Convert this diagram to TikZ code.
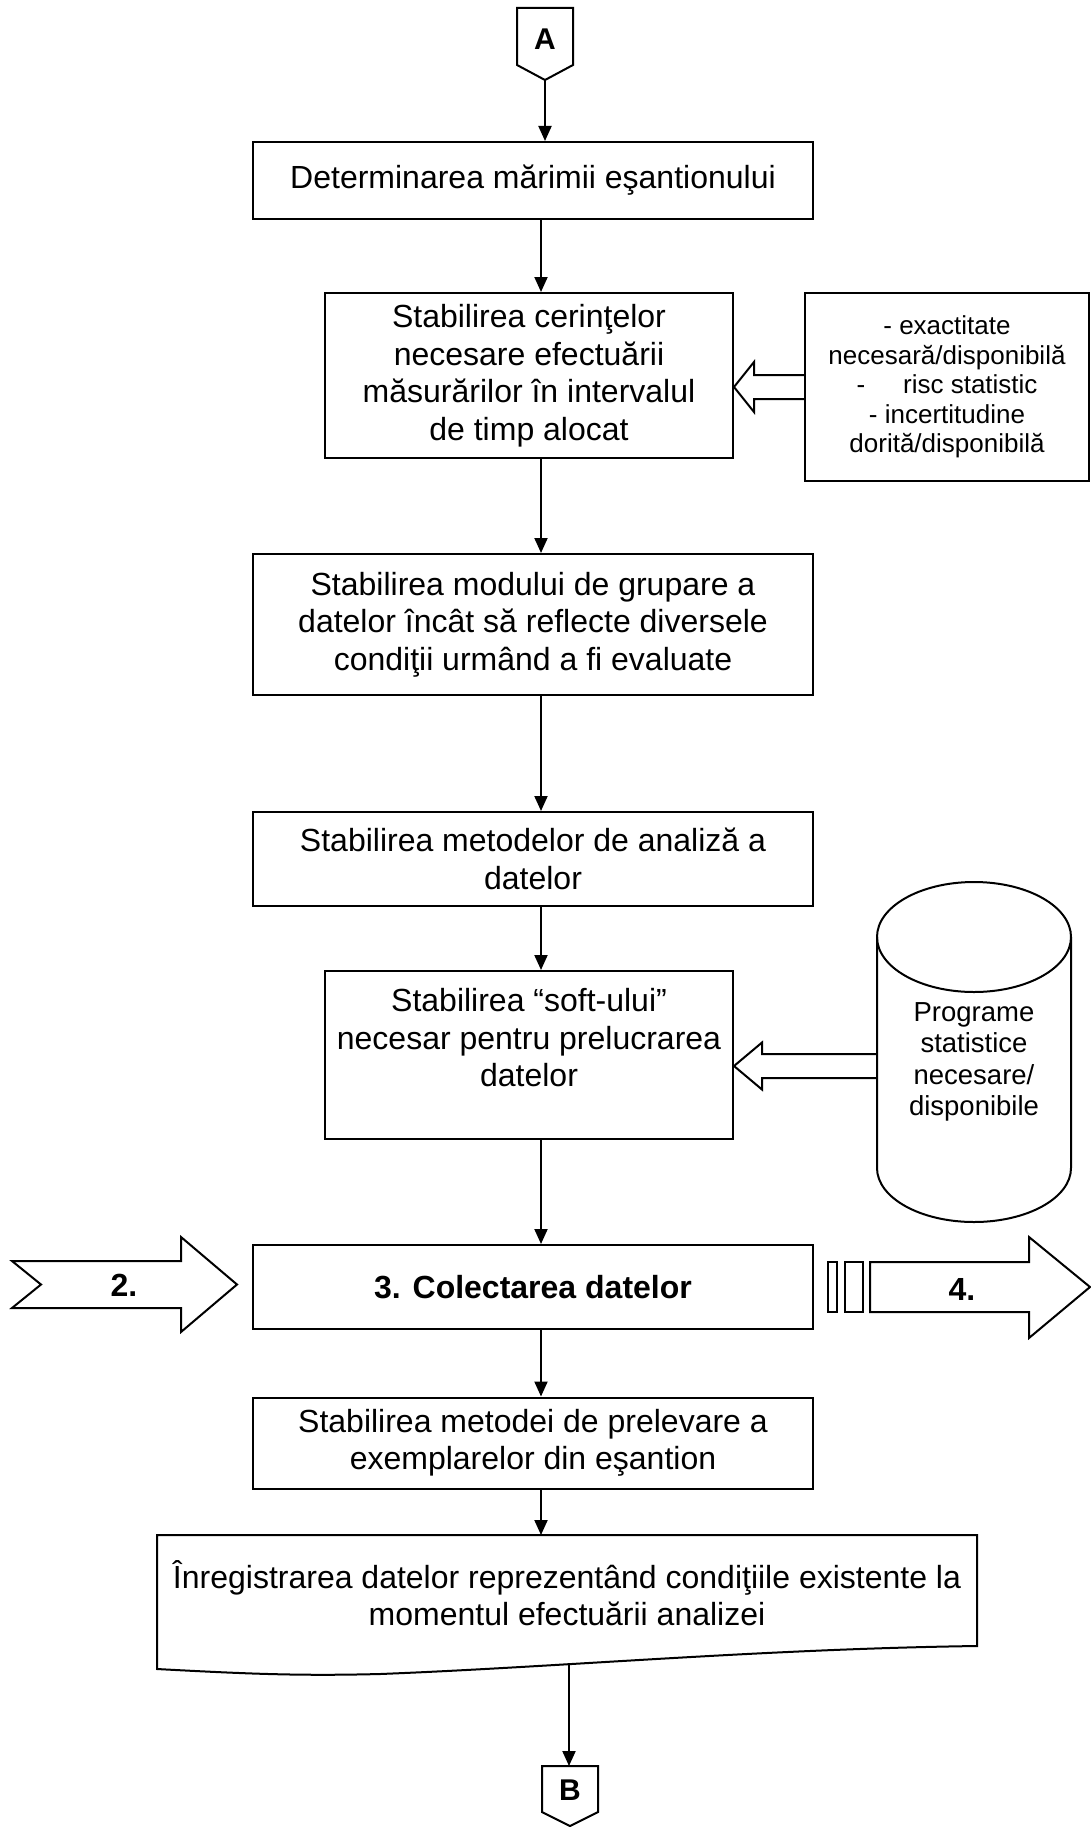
\documentclass[tikz,border=0pt]{standalone}
\usepackage{fontspec}
\setmainfont{Liberation Sans}
\usetikzlibrary{arrows.meta,calc}

\begin{document}
\begin{tikzpicture}[x=1pt,y=-1pt,line width=2pt,line join=miter,
  box/.style={draw,rectangle,line width=2pt,inner sep=0pt,align=center,
    font=\fontsize{32}{37.5}\selectfont},
  plain/.style={align=center,inner sep=0pt},
  flow/.style={line width=2pt,-{Triangle[length=15pt,width=13pt]}},
  outline/.style={draw,line width=2pt,line join=miter},
  lettr/.style={plain,font=\fontsize{30}{36}\selectfont\bfseries},
  sidetext/.style={font=\fontsize{26}{29.5}\selectfont},
]
\fill[white] (0,0) rectangle (1091,1827);
\useasboundingbox (0,0) rectangle (1091,1827);

% off-page connector A
\node[lettr] (A) at (545,39) {A};
\draw[outline] (517,8) -- (573,8) -- (573,65) -- (545,80) -- (517,65) -- cycle;
\coordinate (Atip) at (545,80);
\coordinate (ax) at (541,0);

% process boxes
\node[box,minimum width=560,minimum height=77] (b1) at (533,180.5)
  {Determinarea mărimii eşantionului};
\node[box,minimum width=408,minimum height=165] (b2) at (529,375.5)
  {Stabilirea cerinţelor\\necesare efectuării\\măsurărilor în intervalul\\de timp alocat};
\node[box,sidetext,minimum width=284,minimum height=188] (side) at (947,387)
  {- exactitate\\necesară/disponibilă\\-\hspace{38pt}risc statistic\\- incertitudine\\dorită/disponibilă};
\node[box,minimum width=560,minimum height=141] (b3) at (533,624.5)
  {Stabilirea modului de grupare a\\datelor încât să reflecte diversele\\condiţii urmând a fi evaluate};
\node[box,minimum width=560,minimum height=94] (b4) at (533,859)
  {Stabilirea metodelor de analiză a\\datelor};
\node[box,minimum width=408,minimum height=168] (b5) at (529,1055) {};
\node[plain,font=\fontsize{32}{37.5}\selectfont] (b5t) at (529,1038)
  {Stabilirea “soft-ului”\\necesar pentru prelucrarea\\datelor};
\node[box,minimum width=560,minimum height=84,font=\fontsize{32}{37.5}\selectfont\bfseries] (b6) at (533,1287)
  {3. Colectarea datelor};
\node[box,minimum width=560,minimum height=91] (b7) at (533,1443)
  {Stabilirea metodei de prelevare a\\exemplarelor din eşantion};

% document shape with wavy lower edge
\draw[outline] (157,1669) -- (157,1535) -- (977,1535) -- (977,1646)
  .. controls (760,1649) and (560,1667) .. (380,1674)
  .. controls (300,1676) and (250,1674) .. (157,1669) -- cycle;
\node[plain,font=\fontsize{32}{37.5}\selectfont] (doc) at (567,1593)
  {Înregistrarea datelor reprezentând condiţiile existente la\\momentul efectuării analizei};
\coordinate (doctop) at (541,1535);
\coordinate (docb) at (569,1664);

% off-page connector B
\node[lettr] (B) at (570,1790) {B};
\draw[outline] (542,1766) -- (598,1766) -- (598,1812) -- (570,1826) -- (542,1812) -- cycle;
\coordinate (Btop) at (569,1766);

% database cylinder
\draw[outline] (974,937) ellipse [x radius=97, y radius=55];
\draw[outline] (877,937) -- (877,1168)
  .. controls (877,1197.8) and (920.4,1222) .. (974,1222)
  .. controls (1027.6,1222) and (1071,1197.8) .. (1071,1168) -- (1071,937);
\node[plain,font=\fontsize{27.5}{31.5}\selectfont] (cyl) at (974,1062)
  {Programe\\statistice\\necesare/\\disponibile};
\coordinate (cylL) at (877,1066);

% main flow
\draw[flow] (Atip) -- (Atip |- b1.north);
\draw[flow] (b1.south -| ax) -- (b2.north -| ax);
\draw[flow] (b2.south -| ax) -- (b3.north -| ax);
\draw[flow] (b3.south -| ax) -- (b4.north -| ax);
\draw[flow] (b4.south -| ax) -- (b5.north -| ax);
\draw[flow] (b5.south -| ax) -- (b6.north -| ax);
\draw[flow] (b6.south -| ax) -- (b7.north -| ax);
\draw[flow] (b7.south -| ax) -- (doctop);
\draw[flow] (docb) -- (Btop);

% hollow block arrows into the side of the boxes
\coordinate (t1) at (b2.east |- side.west);
\draw[outline] ($(side.west)+(0,-12)$) -- ($(t1)+(20,-12)$) -- ($(t1)+(20,-25)$) -- (t1)
  -- ($(t1)+(20,25)$) -- ($(t1)+(20,12)$) -- ($(side.west)+(0,12)$);
\coordinate (t2) at (b5.east |- cylL);
\draw[outline] ($(cylL)+(0,-12)$) -- ($(t2)+(28,-12)$) -- ($(t2)+(28,-23.5)$) -- (t2)
  -- ($(t2)+(28,23.5)$) -- ($(t2)+(28,12)$) -- ($(cylL)+(0,12)$);

% notched arrow coming from step 2
\draw[outline] (12,1261) -- (181,1261) -- (181,1237) -- (237,1284.5) -- (181,1332)
  -- (181,1308) -- (12,1308) -- (41,1284.5) -- cycle;
\node[lettr,font=\fontsize{32}{37.5}\selectfont\bfseries] (in2) at (124,1285) {2.};

% striped arrow towards step 4
\draw[outline] (828,1262) rectangle (837,1312);
\draw[outline] (845,1262) rectangle (863,1312);
\draw[outline] (870,1262) -- (1029,1262) -- (1029,1237) -- (1090,1287) -- (1029,1338)
  -- (1029,1312) -- (870,1312) -- cycle;
\node[lettr,font=\fontsize{32}{37.5}\selectfont\bfseries] (out4) at (962,1289) {4.};
\end{tikzpicture}
\end{document}
